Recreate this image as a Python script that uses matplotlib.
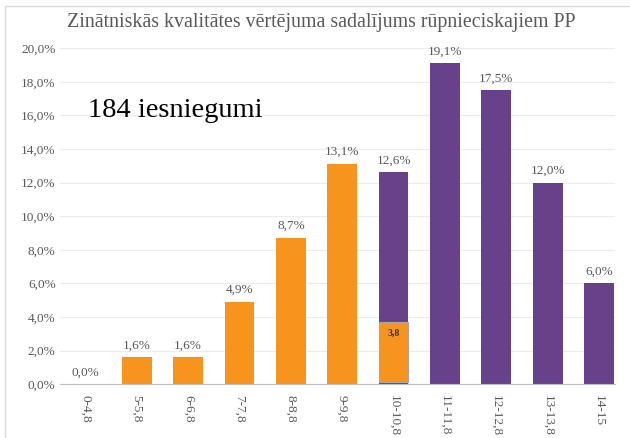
import matplotlib
matplotlib.use("Agg")
import matplotlib.pyplot as plt
from matplotlib.patches import Rectangle

categories = ["0-4,8", "5-5,8", "6-6,8", "7-7,8", "8-8,8", "9-9,8", "10-10,8",
              "11-11,8", "12-12,8", "13-13,8", "14-15"]
orange_vals = [0.0, 1.6, 1.6, 4.9, 8.7, 13.1, None, None, None, None, None]
purple_vals = [None, None, None, None, None, None, 12.6, 19.1, 17.5, 12.0, 6.0]
split_base = 0.1
split_orange = 3.6
split_label = "3,8"
yticks = [0, 2, 4, 6, 8, 10, 12, 14, 16, 18, 20]

ORANGE = "#F7941D"
PURPLE = "#674189"
GRAY = "#595959"

plt.rcParams["font.family"] = ["Liberation Serif", "DejaVu Serif"]

fig = plt.figure(figsize=(6.3, 4.38), dpi=100)
ax = fig.add_axes([0.095, 0.123, 0.881, 0.767])

fig.patches.append(Rectangle((0.008, -0.05), 1.5, 1.037, transform=fig.transFigure,
                             fill=False, edgecolor="#d9d9d9", linewidth=1.0))

x = list(range(len(categories)))
w = 0.58

def fmt(v):
    return f"{v:.1f}%".replace(".", ",")

for i, v in enumerate(orange_vals):
    if v is None:
        continue
    ax.bar(i, v, width=w, color=ORANGE, zorder=3)
    ax.text(i, v + 0.35, fmt(v), ha="center", va="bottom", fontsize=9.5, color=GRAY)

for i, v in enumerate(purple_vals):
    if v is None:
        continue
    ax.bar(i, v, width=w, color=PURPLE, zorder=3)
    ax.text(i, v + 0.35, fmt(v), ha="center", va="bottom", fontsize=9.5, color=GRAY)

# split bar overlay
ax.bar(6, split_orange, bottom=split_base, width=w, color=ORANGE,
       edgecolor="#a6a6a6", linewidth=0.8, zorder=4)
ax.text(6, split_base + split_orange - 0.4, split_label, ha="center", va="top",
        fontsize=7, color="#333333", fontweight="bold", zorder=5)

ax.set_ylim(0, 20)
ax.set_xlim(-0.5, len(categories) - 0.69)
ax.set_yticks(yticks)
ax.set_yticklabels([fmt(t) for t in yticks], fontsize=9.5, color=GRAY)
ax.set_xticks(x)
ax.set_xticklabels(categories, rotation=-90, fontsize=9.5, color=GRAY)
ax.tick_params(axis="both", length=0, pad=8)
ax.tick_params(axis="y", pad=3)
ax.grid(axis="y", color="#ececec", linewidth=0.8, zorder=0)
for s in ["top", "right", "left"]:
    ax.spines[s].set_visible(False)
ax.spines["bottom"].set_color("#bfbfbf")
ax.spines["bottom"].set_zorder(5)

fig.text(0.51, 0.948, "Zinātniskās kvalitātes vērtējuma sadalījums rūpnieciskajiem PP",
         ha="center", va="center", fontsize=14.3, color=GRAY)
ax.text(0.05, 0.815, "184 iesniegumi", transform=ax.transAxes, fontsize=20.5,
        color="black", ha="left", va="center")

fig.savefig("out.png", dpi=100)
